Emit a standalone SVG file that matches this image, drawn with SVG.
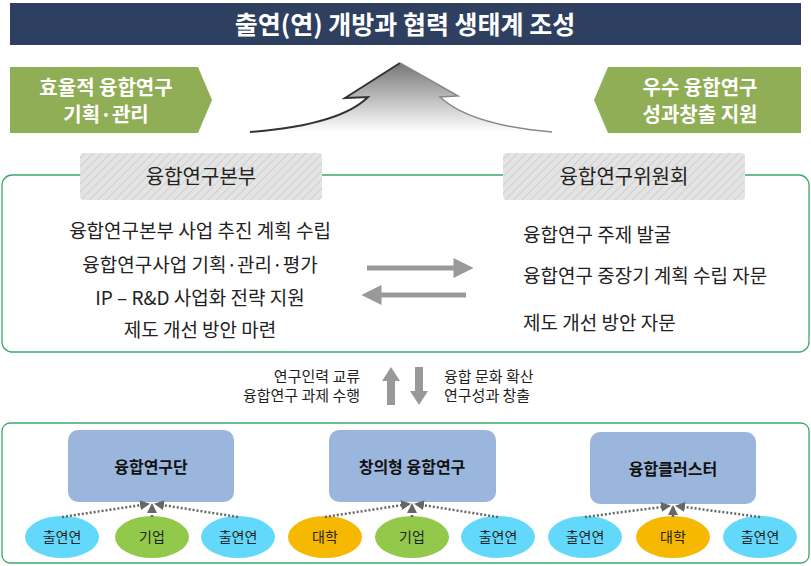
<svg xmlns="http://www.w3.org/2000/svg" width="811" height="566" viewBox="0 0 811 566">
<style>
text{font-family:"Noto Sans CJK KR","Noto Sans",sans-serif}
.t{font-size:19px;fill:#222}
.w{fill:#fff;font-weight:bold;font-size:20px}
.bx{fill:#9bb6dc}
.n{font-size:14px;fill:#222}
.m{font-size:15px;fill:#222}
.dl{stroke:#666;stroke-width:2.5;stroke-dasharray:2 2;fill:none;marker-end:url(#ah)}
</style>
<defs>
<pattern id="hatch" width="6" height="6" patternUnits="userSpaceOnUse" patternTransform="rotate(45)"><rect width="6" height="6" fill="#e4e4e4"/><line x1="0" y1="0" x2="0" y2="6" stroke="#cfcfcf" stroke-width="2"/></pattern>
<linearGradient id="ug" x1="0" y1="0" x2="0" y2="1"><stop offset="0" stop-color="#777"/><stop offset="1" stop-color="#fff"/></linearGradient>
<marker id="ah" viewBox="0 0 10 10" refX="8" refY="5" markerWidth="4" markerHeight="4" orient="auto"><path d="M0,0L10,5L0,10z" fill="#666"/></marker>
</defs>
<g id="title"><rect x="10" y="3" width="791" height="42" fill="#2f3f5f"/><text x="405" y="34" text-anchor="middle" fill="#fff" font-weight="bold" font-size="25">출연(연) 개방과 협력 생태계 조성</text></g>
<g id="left-goal"><path d="M10,67H198L212,100L198,133H10z" fill="#8fae56"/><text class="w" x="106" y="95" text-anchor="middle">효율적 융합연구</text><text class="w" x="106" y="122" text-anchor="middle">기획·관리</text></g>
<g id="right-goal"><path d="M801,67H608L594,100L608,133H801z" fill="#8fae56"/><text class="w" x="700" y="95" text-anchor="middle">우수 융합연구</text><text class="w" x="700" y="122" text-anchor="middle">성과창출 지원</text></g>
<g id="uparrow"><path d="M400,63L458,96L440,97Q470,125 552,132L250,132Q340,125 368,97L345,98z" fill="url(#ug)"/><path d="M400,63L345,98L368,97Q340,125 250,132" fill="none" stroke="#333" stroke-width="2"/><path d="M400,63L458,96L440,97Q470,125 552,132" fill="none" stroke="#888" stroke-width="1.5"/></g>
<g id="top-panel"><rect x="2" y="175" width="807" height="177" rx="10" fill="#fff" stroke="#3aa86b" stroke-width="1.3"/></g>
<g id="hq"><rect x="80" y="153" width="242" height="47" rx="4" fill="url(#hatch)"/><text x="201" y="184" text-anchor="middle" font-size="20" fill="#222">융합연구본부</text>
<text class="t" x="200" y="238" text-anchor="middle">융합연구본부 사업 추진 계획 수립</text>
<text class="t" x="200" y="272" text-anchor="middle">융합연구사업 기획·관리·평가</text>
<text class="t" x="200" y="305" text-anchor="middle">IP – R&amp;D 사업화 전략 지원</text>
<text class="t" x="200" y="337" text-anchor="middle">제도 개선 방안 마련</text></g>
<g id="committee"><rect x="503" y="153" width="242" height="47" rx="4" fill="url(#hatch)"/><text x="624" y="184" text-anchor="middle" font-size="20" fill="#222">융합연구위원회</text>
<text class="t" x="523" y="242">융합연구 주제 발굴</text>
<text class="t" x="523" y="283">융합연구 중장기 계획 수립 자문</text>
<text class="t" x="523" y="330">제도 개선 방안 자문</text></g>
<g id="exchange-labels"><text class="m" x="360" y="382" text-anchor="end">연구인력 교류</text><text class="m" x="360" y="401" text-anchor="end">융합연구 과제 수행</text>
<text class="m" x="444" y="382">융합 문화 확산</text><text class="m" x="444" y="401">연구성과 창출</text></g>
<g id="bottom-panel"><rect x="2" y="423" width="807" height="140" rx="8" fill="#fff" stroke="#3aa86b" stroke-width="1.3"/></g>
<g id="unit1"><rect class="bx" x="68" y="430" width="166" height="72" rx="10"/><text x="151" y="473" text-anchor="middle" font-size="16" font-weight="bold" fill="#111">융합연구단</text></g>
<g id="unit2"><rect class="bx" x="329" y="430" width="167" height="72" rx="10"/><text x="412" y="473" text-anchor="middle" font-size="16" font-weight="bold" fill="#111">창의형 융합연구</text></g>
<g id="unit3"><rect class="bx" x="590" y="432" width="166" height="72" rx="10"/><text x="673" y="475" text-anchor="middle" font-size="16" font-weight="bold" fill="#111">융합클러스터</text></g>
<g id="members">
<ellipse cx="62" cy="537" rx="37" ry="21" fill="#62d9fb"/><text class="n" x="62" y="542" text-anchor="middle">출연연</text>
<ellipse cx="152" cy="537" rx="37" ry="21" fill="#92c94b"/><text class="n" x="152" y="542" text-anchor="middle">기업</text>
<ellipse cx="238" cy="537" rx="37" ry="21" fill="#62d9fb"/><text class="n" x="238" y="542" text-anchor="middle">출연연</text>
<ellipse cx="325" cy="537" rx="37" ry="21" fill="#f6b800"/><text class="n" x="325" y="542" text-anchor="middle">대학</text>
<ellipse cx="412" cy="537" rx="37" ry="21" fill="#92c94b"/><text class="n" x="412" y="542" text-anchor="middle">기업</text>
<ellipse cx="498" cy="537" rx="37" ry="21" fill="#62d9fb"/><text class="n" x="498" y="542" text-anchor="middle">출연연</text>
<ellipse cx="585" cy="537" rx="37" ry="21" fill="#62d9fb"/><text class="n" x="585" y="542" text-anchor="middle">출연연</text>
<ellipse cx="673" cy="537" rx="37" ry="21" fill="#f6b800"/><text class="n" x="673" y="542" text-anchor="middle">대학</text>
<ellipse cx="760" cy="537" rx="37" ry="21" fill="#62d9fb"/><text class="n" x="760" y="542" text-anchor="middle">출연연</text>
</g>
<g id="connectors">
<path d="M367,268H456V262L468,268L456,274V268" fill="#999" stroke="#999" stroke-width="5"/>
<path d="M466,295H379V289L367,295L379,301V295" fill="#999" stroke="#999" stroke-width="5"/>
<path d="M391,405V380" stroke="#999" stroke-width="8"/><path d="M382,381L391,367L400,381z" fill="#999"/>
<path d="M419,367V392" stroke="#999" stroke-width="8"/><path d="M410,391L419,405L428,391z" fill="#999"/>
<path class="dl" d="M62,517L148,504"/><path class="dl" d="M152,517V505"/><path class="dl" d="M238,517L156,504"/>
<path class="dl" d="M325,517L409,504"/><path class="dl" d="M412,517V505"/><path class="dl" d="M498,517L416,504"/>
<path class="dl" d="M585,517L669,506"/><path class="dl" d="M673,517V507"/><path class="dl" d="M760,517L677,506"/>
</g>
</svg>
